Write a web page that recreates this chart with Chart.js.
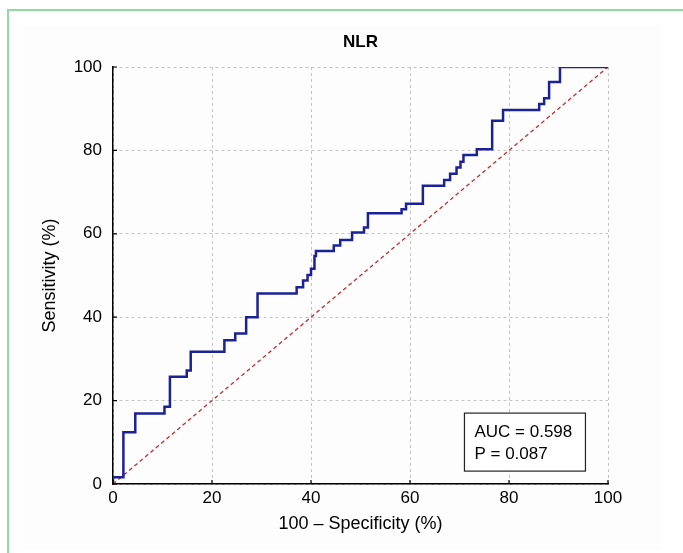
<!DOCTYPE html>
<html>
<head>
<meta charset="utf-8">
<script src="https://cdn.jsdelivr.net/npm/chart.js@4/dist/chart.umd.min.js"></script>
<style>
  html, body { margin: 0; padding: 0; background: #fff; }
  canvas { display: block; }
</style>
</head>
<body>
<canvas id="roc" width="683" height="553"></canvas>
<script>
// ROC curve corners (100 - specificity, sensitivity)
const fpr = [0, 0, 2.1, 4.5, 10.4, 11.5, 14.9, 15.7, 22.5, 24.7, 26.9, 29.2,
  37.1, 38.4, 39.3, 40.0, 40.7, 41.0, 44.6, 45.9, 48.3, 50.7, 51.5, 58.3, 59.2,
  62.6, 66.9, 68.1, 69.4, 70.2, 70.8, 73.5, 76.6, 78.8, 86.1, 87.1, 88.1, 90.3, 100]
const sens = [0, 1.6, 12.4, 16.9, 18.5, 25.7, 27.2, 31.7, 34.5, 36.1, 40.0, 45.7,
  47.2, 48.8, 50.1, 51.6, 54.7, 55.9, 57.2, 58.5, 60.3, 61.5, 64.9, 65.9, 67.2,
  71.5, 72.9, 74.4, 75.9, 77.3, 78.9, 80.3, 87.1, 89.7, 91.1, 92.5, 96.4, 100, 100]
const refX = [0, 100]
const refY = [0, 100]
const ticks = [0, 20, 40, 60, 80, 100]
const chartTitle = "NLR"
const statLines = ["AUC = 0.598", "P = 0.087"]

const font = "'Liberation Sans', Arial, sans-serif"

const decor = {
  id: "decor",
  beforeDraw(chart) {
    const ctx = chart.ctx
    ctx.save()
    ctx.fillStyle = "#fdfdfd"
    ctx.fillRect(22, 25, 640, 525)
    ctx.strokeStyle = "#92d9a0"
    ctx.lineWidth = 2
    ctx.beginPath()
    ctx.moveTo(683, 10); ctx.lineTo(8, 10); ctx.lineTo(8, 553)
    ctx.stroke()
    ctx.restore()
  },
  afterDraw(chart) {
    const ctx = chart.ctx
    const a = chart.chartArea
    const xs = chart.scales.x, ys = chart.scales.y
    ctx.save()
    // inward tick marks
    ctx.strokeStyle = "#000"
    ctx.lineWidth = 1.2
    ctx.beginPath()
    ticks.forEach(t => {
      const px = xs.getPixelForValue(t)
      ctx.moveTo(px, a.bottom); ctx.lineTo(px, a.bottom - 4)
      const py = ys.getPixelForValue(t)
      ctx.moveTo(a.left, py); ctx.lineTo(a.left + 4, py)
    })
    ctx.stroke()
    // titles
    ctx.fillStyle = "#000"
    ctx.textAlign = "center"
    ctx.textBaseline = "middle"
    ctx.font = "bold 17px " + font
    ctx.fillText(chartTitle, (a.left + a.right) / 2, 42)
    ctx.font = "18px " + font
    ctx.fillText("100 \u2013 Specificity (%)", (a.left + a.right) / 2, 524)
    ctx.save()
    ctx.translate(50, (a.top + a.bottom) / 2)
    ctx.rotate(-Math.PI / 2)
    ctx.fillText("Sensitivity (%)", 0, 0)
    ctx.restore()
    // stats box
    const bx = xs.getPixelForValue(71), by = ys.getPixelForValue(17)
    ctx.fillStyle = "#fff"
    ctx.fillRect(bx, by, 121, 58)
    ctx.strokeStyle = "#222"
    ctx.lineWidth = 1.2
    ctx.strokeRect(bx, by, 121, 58)
    ctx.fillStyle = "#000"
    ctx.textAlign = "left"
    ctx.font = "17px " + font
    ctx.fillText(statLines[0], bx + 10, by + 19)
    ctx.fillText(statLines[1], bx + 10, by + 41)
    ctx.restore()
  }
}

new Chart(document.getElementById("roc"), {
  type: "scatter",
  data: {
    datasets: [
      {
        data: refX.map((x, i) => ({x: x, y: refY[i]})),
        showLine: true,
        borderColor: "#c82a2a",
        borderWidth: 1.3,
        borderDash: [4, 3],
        pointRadius: 0,
        order: 2
      },
      {
        data: fpr.map((x, i) => ({x: x, y: sens[i]})),
        showLine: true,
        stepped: "before",
        borderColor: "#1b2296",
        borderWidth: 2.5,
        pointRadius: 0,
        order: 1
      }
    ]
  },
  options: {
    responsive: false,
    animation: false,
    devicePixelRatio: 1,
    layout: { padding: { left: 0, top: 67, right: 75, bottom: 0 } },
    plugins: { legend: { display: false }, tooltip: { enabled: false } },
    scales: {
      x: {
        type: "linear", min: 0, max: 100,
        afterBuildTicks: s => { s.ticks = ticks.map(v => ({value: v})) },
        afterFit: s => { s.height = 69 },
        grid: { color: "#c4c4c4", lineWidth: 1, drawTicks: false },
        border: { color: "#000", width: 1.5, dash: [3, 3] },
        ticks: { color: "#000", padding: 4, maxRotation: 0, font: { family: font, size: 17 } }
      },
      y: {
        type: "linear", min: 0, max: 100,
        afterBuildTicks: s => { s.ticks = ticks.map(v => ({value: v})) },
        afterFit: s => { s.width = 113 },
        grid: { color: "#c4c4c4", lineWidth: 1, drawTicks: false },
        border: { color: "#000", width: 1.5, dash: [3, 3] },
        ticks: { color: "#000", padding: 11, font: { family: font, size: 17 } }
      }
    }
  },
  plugins: [decor]
})
</script>
</body>
</html>
